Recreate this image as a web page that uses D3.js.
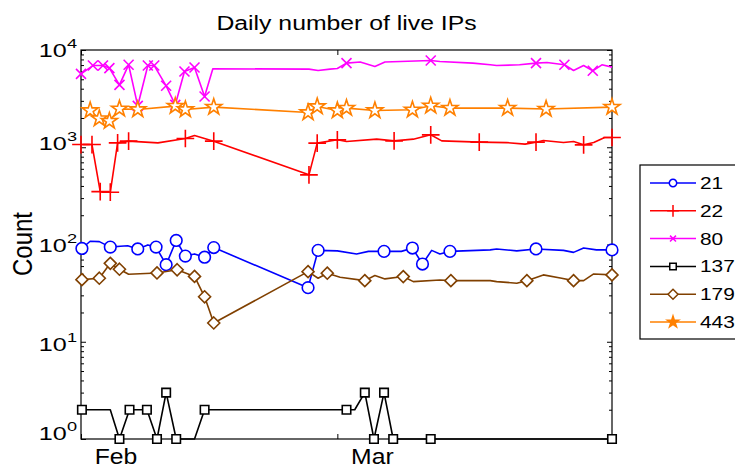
<!DOCTYPE html>
<html lang="en">
  <head>
    <meta charset="UTF-8" />
    <title>Daily number of live IPs</title>
    <style>
      body { margin: 0; background: #fff; }
      text { font-family: "Liberation Sans", Arial, sans-serif; fill: #000; }
      .axis line { stroke: #000; }
    </style>
  </head>
  <body>
    <svg id="chart" width="735" height="468"></svg>
    <script src="https://cdn.jsdelivr.net/npm/d3@7"></script>
    <script>
      // each point: [days after 1 Feb, count, marker drawn (1) or not (0)]
      const port21 = [
        [0.1, 91, 1], [1.0, 108, 0], [2.0, 107, 0], [3.2, 94, 1], [4.3, 96, 0],
        [5.1, 97, 0], [6.2, 90, 1], [7.3, 99, 0], [8.2, 94, 1], [9.3, 62, 1],
        [10.4, 110, 1], [11.4, 76, 1], [12.4, 80, 0], [13.5, 74, 1], [14.5, 93, 1],
        [24.8, 36, 1], [25.9, 87, 1], [28.0, 86, 0], [30.1, 80, 0], [31.4, 85, 0],
        [33.1, 85, 1], [35.0, 85, 0], [36.2, 92, 1], [37.3, 63, 1], [38.3, 87, 0],
        [39.2, 80, 0], [40.3, 85, 1], [44.7, 88, 0], [45.4, 90, 0], [47.6, 86, 0],
        [49.7, 90, 1], [52.7, 87, 0], [53.8, 83, 0], [54.9, 92, 0], [56.3, 88, 0],
        [58.0, 88, 1]
      ];
      const port22 = [
        [0.0, 1066, 1], [1.2, 1066, 1], [2.1, 350, 1], [3.2, 345, 1], [4.0, 1110, 1],
        [5.2, 1155, 1], [8.4, 1110, 0], [11.4, 1230, 1], [12.4, 1320, 0], [14.5, 1155, 1],
        [24.9, 520, 1], [25.8, 1102, 1], [28.0, 1192, 1], [29.0, 1145, 0], [32.3, 1211, 0],
        [34.2, 1164, 1], [36.3, 1211, 0], [38.2, 1342, 1], [39.4, 1164, 0], [43.5, 1128, 1],
        [46.5, 1117, 0], [48.5, 1076, 0], [49.7, 1128, 1], [50.5, 1173, 0], [52.7, 1117, 0],
        [53.8, 1145, 0], [54.9, 1059, 1], [56.0, 1117, 0], [57.2, 1259, 0], [58.0, 1259, 1]
      ];
      const port80 = [
        [0.0, 5690, 1], [1.3, 6920, 1], [2.4, 6920, 1], [3.1, 6510, 1], [4.2, 4385, 1],
        [5.2, 7045, 1], [6.2, 2667, 1], [7.3, 6920, 1], [8.0, 6920, 1], [9.3, 4285, 1],
        [10.3, 2730, 1], [11.3, 6010, 1], [12.4, 6600, 1], [13.5, 3325, 1], [14.4, 6410, 0],
        [24.9, 6360, 0], [25.9, 6150, 0], [27.2, 6360, 0], [28.0, 6450, 0], [29.0, 7330, 1],
        [30.5, 7515, 0], [32.1, 6760, 0], [33.2, 7515, 0], [38.2, 7790, 1], [39.2, 7620, 0],
        [42.8, 7330, 0], [44.7, 7045, 0], [45.4, 6920, 0], [47.9, 7045, 0], [49.7, 7330, 1],
        [50.9, 7440, 0], [52.8, 7045, 1], [53.8, 6150, 0], [54.9, 6920, 0], [55.9, 6110, 1],
        [56.9, 7045, 0], [58.0, 6670, 0]
      ];
      const port137 = [
        [0.1, 2, 1], [3.2, 2, 0], [4.2, 1, 1], [5.3, 2, 1], [7.2, 2, 1], [8.3, 1, 1],
        [9.3, 3, 1], [10.4, 1, 1], [12.4, 1, 0], [13.5, 2, 1], [29.0, 2, 1], [29.9, 2, 0],
        [31.0, 3, 1], [32.0, 1, 1], [33.1, 3, 1], [34.1, 1, 1], [38.2, 1, 1], [58.0, 1, 1]
      ];
      const port179 = [
        [0.1, 43.5, 1], [2.0, 45, 1], [3.2, 64, 1], [4.2, 55.7, 1], [5.2, 49.5, 0],
        [8.3, 51, 1], [10.5, 55, 1], [12.4, 47, 1], [13.5, 29, 1], [14.5, 15.6, 1],
        [24.8, 52.6, 1], [25.9, 45, 0], [26.9, 50.7, 1], [28.3, 46, 0], [31.0, 42.5, 1],
        [32.1, 48, 0], [33.2, 44.3, 0], [35.2, 46.8, 1], [36.3, 41.5, 0], [39.2, 43.2, 0],
        [40.4, 42.5, 1], [44.7, 42.5, 0], [45.4, 41.5, 0], [47.6, 40, 0], [48.7, 42.5, 1],
        [50.5, 48.7, 0], [52.5, 45, 0], [53.8, 42.5, 1], [54.9, 42.5, 0], [56.0, 49.8, 0],
        [58.0, 48.7, 1]
      ];
      const port443 = [
        [1.0, 2387, 1], [2.0, 1973, 1], [3.1, 1857, 1], [4.2, 2483, 1], [6.2, 2443, 1],
        [10.3, 2648, 1], [11.4, 2443, 1], [14.5, 2587, 1], [24.8, 2275, 1], [25.8, 2624, 1],
        [28.0, 2387, 1], [29.0, 2525, 1], [32.1, 2387, 1], [36.2, 2427, 1], [38.2, 2667, 1],
        [40.3, 2525, 1], [44.7, 2525, 0], [46.6, 2525, 1], [50.8, 2470, 1], [58.0, 2587, 1]
      ];

      const ports = ["21", "22", "80", "137", "179", "443"];
      const portData = [port21, port22, port80, port137, port179, port443];
      const colors = ["#0000ff", "#ff0000", "#ff00ff", "#000000", "#804000", "#ff8000"];
      const symbols = [d3.symbolCircle, d3.symbolPlus, d3.symbolTimes, d3.symbolSquare, d3.symbolDiamond2, d3.symbolStar];
      const symbolSizes = [106, 104, 67, 72, 92, 80];
      const legendSizes = [43, 47, 25, 42, 64, 40];
      const yTicks = [1, 10, 100, 1000, 10000];
      const monthTicks = ["Feb", "Mar"];

      const svg = d3.select("#chart");
      const plotLeft = 81, plotRight = 612, plotTop = 50, plotBottom = 439;
      const start = Date.UTC(2010, 1, 1);
      const toDate = (d) => new Date(start + d * 864e5);

      const x = d3.scaleUtc().domain([toDate(0), toDate(58)]).range([plotLeft, plotRight]);
      const y = d3.scaleLog().domain([1, 10000]).range([plotBottom, plotTop]);

      // text drawn wider than the font, as in the picture
      const stretchText = (parent, px, py, str, size, sx, anchor) =>
        parent.append("text")
          .attr("transform", `translate(${px},${py}) scale(${sx},1)`)
          .attr("text-anchor", anchor)
          .style("font-size", size + "px")
          .text(str);

      // minor log ticks
      const minor = [];
      for (let e = 0; e < 4; e++) for (let k = 2; k < 10; k++) minor.push(k * 10 ** e);

      const axes = svg.append("g").attr("class", "axis");
      const addAxis = (axis, tx, ty) => {
        const g = axes.append("g").attr("transform", `translate(${tx},${ty})`).call(axis);
        g.select(".domain").remove();
        g.selectAll("text").remove();
      };
      addAxis(d3.axisLeft(y).tickValues(yTicks).tickSize(-5), plotLeft, 0);
      addAxis(d3.axisLeft(y).tickValues(minor).tickSize(-3), plotLeft, 0);
      addAxis(d3.axisRight(y).tickValues(yTicks).tickSize(-5), plotRight, 0);
      addAxis(d3.axisRight(y).tickValues(minor).tickSize(-3), plotRight, 0);
      addAxis(d3.axisBottom(x).tickValues([toDate(0), toDate(28)]).tickSize(-5), 0, plotBottom);
      addAxis(d3.axisTop(x).tickValues([toDate(0), toDate(28)]).tickSize(-5), 0, plotTop);

      axes.append("rect")
        .attr("x", plotLeft).attr("y", plotTop)
        .attr("width", plotRight - plotLeft).attr("height", plotBottom - plotTop)
        .attr("fill", "none").attr("stroke", "#000").attr("stroke-width", 1.2);

      // y tick labels 10^n (MATLAB places them slightly unevenly)
      const labelShift = [0.5, 9.5, 7, 2.5, 6.5];
      yTicks.forEach((v, i) => {
        const t = stretchText(svg, 77, y(v) + labelShift[i], "10", 18, 1.4, "end");
        t.append("tspan")
          .attr("dy", -9)
          .style("font-size", "13px")
          .text(Math.log10(v));
      });

      // month labels sit right of their ticks
      monthTicks.forEach((m, i) => {
        stretchText(svg, x(toDate(i * 28)) + 35, 464, m, 21.5, 1.15, "middle");
      });

      stretchText(svg, 346.5, 30, "Daily number of live IPs", 21, 1.18, "middle");

      svg.append("text")
        .attr("transform", "translate(31.5,244) scale(1.16,1) rotate(-90)")
        .attr("text-anchor", "middle")
        .style("font-size", "24px")
        .text("Count");

      // series
      const line = d3.line()
        .x((d) => x(toDate(d[0])))
        .y((d) => y(d[1]));

      const plot = svg.append("g");
      portData.forEach((data, i) => {
        const g = plot.append("g");
        g.append("path")
          .attr("d", line(data))
          .attr("fill", "none")
          .attr("stroke", colors[i])
          .attr("stroke-width", 1.6)
          .attr("stroke-linejoin", "round");
        g.selectAll("path.mark")
          .data(data.filter((d) => d[2]))
          .enter()
          .append("path")
          .attr("class", "mark")
          .attr("transform", (d) => `translate(${x(toDate(d[0]))},${y(d[1])})`)
          .attr("d", d3.symbol().type(symbols[i]).size(symbolSizes[i]))
          .attr("fill", i === 1 || i === 2 ? "none" : "#fff")
          .attr("stroke", colors[i])
          .attr("stroke-width", 1.6);
      });

      // legend
      const legend = svg.append("g");
      legend.append("rect")
        .attr("x", 640).attr("y", 165)
        .attr("width", 120).attr("height", 174)
        .attr("fill", "#fff").attr("stroke", "#000").attr("stroke-width", 1.2);
      ports.forEach((p, i) => {
        const ly = 183 + i * 27.8;
        legend.append("line")
          .attr("x1", 650).attr("x2", 696)
          .attr("y1", ly).attr("y2", ly)
          .attr("stroke", colors[i]).attr("stroke-width", 1.5);
        legend.append("path")
          .attr("transform", `translate(673,${ly})`)
          .attr("d", d3.symbol().type(symbols[i]).size(legendSizes[i]))
          .attr("fill", i === 5 ? colors[i] : (i === 1 || i === 2 ? "none" : "#fff"))
          .attr("stroke", colors[i])
          .attr("stroke-width", 1.5);
        stretchText(legend, 700, ly + 6, p, 16.3, 1.28, "start");
      });
    </script>
  </body>
</html>
